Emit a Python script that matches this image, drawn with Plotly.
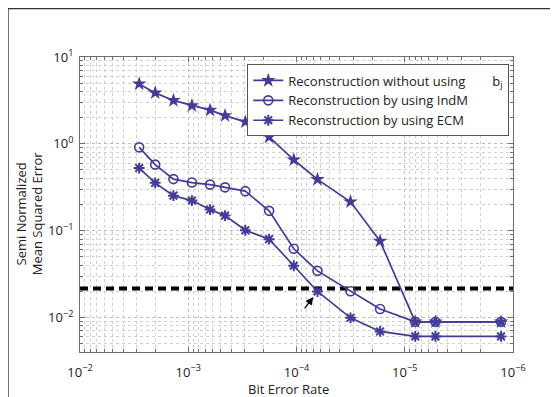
import math
import plotly.graph_objects as go

# ---- data ----
ber = [2.84e-3, 2.02e-3, 1.37e-3, 9.25e-4, 6.29e-4, 4.57e-4, 2.97e-4,
       1.79e-4, 1.06e-4, 6.4e-5, 3.17e-5, 1.69e-5, 8.0e-6, 5.2e-6, 1.29e-6]
mse_without = [4.9, 3.86, 3.16, 2.75, 2.44, 2.11, 1.79,
               1.2, 0.655, 0.389, 0.215, 0.0757, 0.0089, 0.0089, 0.0089]
mse_indm = [0.91, 0.576, 0.392, 0.358, 0.339, 0.315, 0.285,
            0.169, 0.0618, 0.0344, 0.0200, 0.0125, 0.0089, 0.0089, 0.0089]
mse_ecm = [0.526, 0.355, 0.253, 0.222, 0.175, 0.149, 0.101,
           0.0798, 0.0394, 0.0199, 0.0099, 0.0069, 0.00605, 0.00605, 0.00605]
threshold_x = [1e-2, 1e-6]
threshold_y = [0.0216, 0.0216]
arrow_tip = (7.0e-5, 0.0172)
arrow_tail = (8.6e-5, 0.0122)

x_tickvals = [1e-2, 1e-3, 1e-4, 1e-5, 1e-6]
x_ticktext = ["10<sup>\u22122</sup>", "10<sup>\u22123</sup>", "10<sup>\u22124</sup>",
              "10<sup>\u22125</sup>", "10<sup>\u22126</sup>"]
y_tickvals = [1e-2, 1e-1, 1, 10]
y_ticktext = ["10<sup>\u22122</sup>", "10<sup>\u22121</sup>", "10<sup>0</sup>", "10<sup>1</sup>"]

names = ["Reconstruction without using" + "\u00a0" * 8 + "b<sub>j</sub>",
         "Reconstruction by using IndM",
         "Reconstruction by using ECM"]

color = "#413c97"
font = "Open Sans, Liberation Sans, Arial, sans-serif"

fig = go.Figure()
fig.add_trace(go.Scatter(x=threshold_x, y=threshold_y, mode="lines",
                         line=dict(color="black", width=4, dash="8px,5px"),
                         showlegend=False, hoverinfo="skip"))
fig.add_trace(go.Scatter(x=ber, y=mse_without, mode="lines+markers", name=names[0],
                         line=dict(color=color, width=1.7),
                         marker=dict(symbol="star", size=11, color=color)))
fig.add_trace(go.Scatter(x=ber, y=mse_indm, mode="lines+markers", name=names[1],
                         line=dict(color=color, width=1.7),
                         marker=dict(symbol="circle-open", size=9, color=color,
                                     line=dict(width=1.6, color=color))))
fig.add_trace(go.Scatter(x=ber, y=mse_ecm, mode="lines+markers", name=names[2],
                         line=dict(color=color, width=1.7),
                         marker=dict(symbol="asterisk-open", size=9, color=color,
                                     line=dict(width=2, color=color))))

fig.add_annotation(x=math.log10(arrow_tip[0]), y=math.log10(arrow_tip[1]),
                   ax=math.log10(arrow_tail[0]), ay=math.log10(arrow_tail[1]),
                   xref="x", yref="y", axref="x", ayref="y",
                   showarrow=True, arrowhead=2, arrowsize=1.2, arrowwidth=1.3,
                   arrowcolor="black", text="")

axis_common = dict(
    type="log", tickmode="array",
    showline=True, linecolor="#6e6e6e", linewidth=1, mirror="ticks",
    ticks="inside", ticklen=5, tickcolor="#6e6e6e",
    showgrid=True, gridcolor="#bdbdbd", griddash="dot", gridwidth=1,
    zeroline=False,
    minor=dict(dtick="D1", ticks="inside", ticklen=3, tickcolor="#6e6e6e",
               showgrid=True, gridcolor="#d0d0d0", griddash="dot", gridwidth=1),
    tickfont=dict(family=font, size=13, color="#222"),
)

fig.update_xaxes(range=[-2, -6], tickvals=x_tickvals, ticktext=x_ticktext,
                 ticklabelstandoff=8, **axis_common)
fig.update_yaxes(range=[-2.398, 1], tickvals=y_tickvals, ticktext=y_ticktext,
                 ticklabelstandoff=3, **axis_common)

fig.add_annotation(text="Semi Normalized<br>Mean Squared Error", textangle=-90,
                   xref="paper", yref="paper", x=-0.118, y=0.47,
                   xanchor="center", yanchor="middle",
                   showarrow=False, font=dict(family=font, size=13, color="#222"))
fig.add_annotation(text="Bit Error Rate", xref="paper", yref="paper",
                   x=0.481, y=-0.125, xanchor="center", yanchor="middle",
                   showarrow=False, font=dict(family=font, size=13, color="#222"))

# figure frame (top and left edges)
fig.add_shape(type="line", xref="paper", yref="paper", x0=-0.1664, x1=1.3,
              y0=1.164, y1=1.164, line=dict(color="#333", width=1.5))
fig.add_shape(type="line", xref="paper", yref="paper", x0=-0.1664, x1=-0.1664,
              y0=1.164, y1=-0.3, line=dict(color="#333", width=1.5))

fig.update_layout(
    width=550, height=389,
    margin=dict(l=72, r=45, t=49, b=45),
    paper_bgcolor="white", plot_bgcolor="white",
    font=dict(family=font, size=12, color="#222"),
    legend=dict(x=0.9914, y=0.9746, xanchor="right", yanchor="top",
                bgcolor="white", bordercolor="#555", borderwidth=1,
                font=dict(family=font, size=13, color="#222"),
                tracegroupgap=0, itemwidth=30),
    showlegend=True,
)

fig.write_html("out.html")
